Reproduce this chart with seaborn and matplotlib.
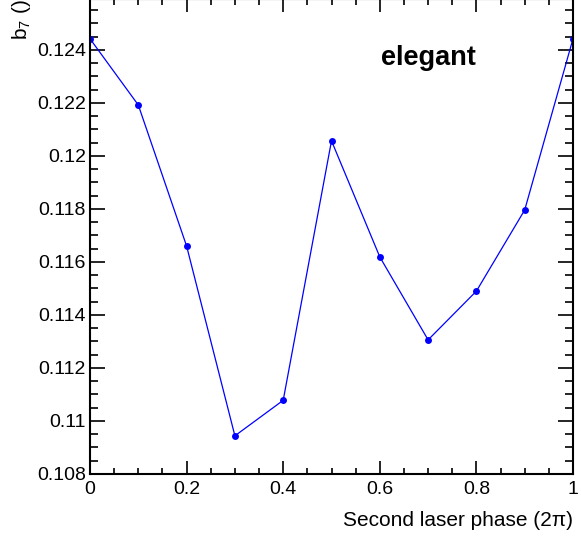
import matplotlib
matplotlib.use("Agg")
import matplotlib.pyplot as plt
import seaborn as sns
import pandas as pd
from matplotlib.ticker import MultipleLocator

phase = [0.0, 0.1, 0.2, 0.3, 0.4, 0.5, 0.6, 0.7, 0.8, 0.9, 1.0]
b7 = [0.12442, 0.12192, 0.11660, 0.10944, 0.11078, 0.12057, 0.11619, 0.11306, 0.11490, 0.11796, 0.12442]

sns.set_style("ticks")
plt.rcParams['font.family'] = ['Liberation Sans', 'DejaVu Sans']
plt.rcParams['mathtext.fontset'] = 'custom'
plt.rcParams['mathtext.rm'] = 'Liberation Sans'
plt.rcParams['mathtext.it'] = 'Liberation Sans'
for k in ['text.color', 'axes.labelcolor', 'xtick.color', 'ytick.color', 'axes.edgecolor']:
    plt.rcParams[k] = 'black'

df = pd.DataFrame({"phase": phase, "b7": b7})

fig = plt.figure(figsize=(5.81, 5.38), dpi=100)
ax = fig.add_axes([90/581, 64/538, 483/581, 475/538])
sns.lineplot(data=df, x="phase", y="b7", ax=ax, color="#0000ff", lw=0.9,
             marker="o", markersize=5, markeredgewidth=0, markerfacecolor="#0000ff")

ax.set_xlim(0, 1)
ax.set_ylim(0.108, 0.12592)
ax.xaxis.set_major_locator(MultipleLocator(0.2))
ax.xaxis.set_minor_locator(MultipleLocator(0.05))
ax.yaxis.set_major_locator(MultipleLocator(0.002))
ax.yaxis.set_minor_locator(MultipleLocator(0.0005))

def fmt(v, p):
    s = f"{v:.3f}".rstrip('0').rstrip('.')
    return s
ax.xaxis.set_major_formatter(plt.FuncFormatter(fmt))
ax.yaxis.set_major_formatter(plt.FuncFormatter(fmt))

ax.tick_params(axis='both', which='both', direction='in', top=True, right=True,
               labelsize=14, width=1.2, color='black', labelcolor='black')
ax.tick_params(axis='x', which='major', length=9.4, pad=5)
ax.tick_params(axis='x', which='minor', length=4.3)
ax.tick_params(axis='y', which='major', length=10.8, pad=3)
ax.tick_params(axis='y', which='minor', length=5.8)
for s in ax.spines.values():
    s.set_linewidth(1.5)
    s.set_visible(True)
    s.set_color('black')

ax.set_xlabel("Second laser phase (2π)", fontsize=15, ha='right', x=1.0)
ax.xaxis.set_label_coords(1.0, -0.077)
ax.set_ylabel(r"b$_{\mathregular{7}}$ ()", fontsize=15, ha='right', y=1.0)
ax.yaxis.set_label_coords(-0.119, 1.0)

ax.text(0.602, 0.861, "elegant", transform=ax.transAxes, fontsize=19.5,
        fontweight='bold', ha='left', va='baseline')

fig.savefig("out.png", dpi=100)
